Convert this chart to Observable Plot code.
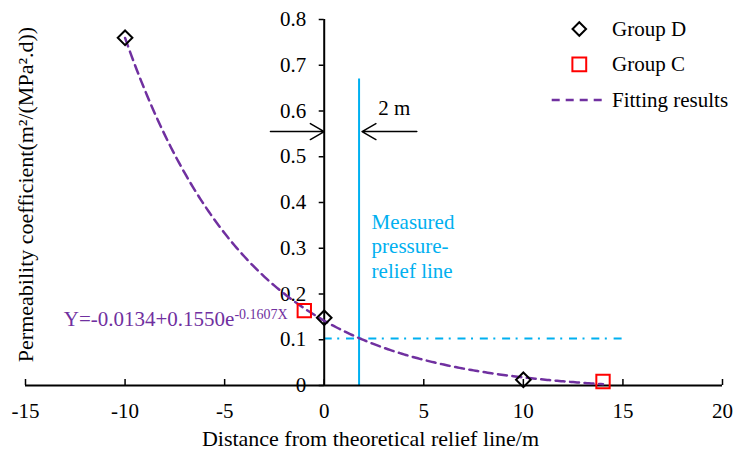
<!DOCTYPE html>
<html><head><meta charset="utf-8">
<script src="https://cdn.jsdelivr.net/npm/d3@7"></script>
<script src="https://cdn.jsdelivr.net/npm/@observablehq/plot@0.6"></script>
<style>html,body{margin:0;padding:0;background:#fff}svg{display:block}</style>
</head><body><div id="chart"></div>
<script>
// ---- data ----
const groupDX = [-10, 0, 10];
const groupDY = [0.760, 0.148, 0.0125];
const groupCX = [-1.0, 14.0];
const groupCY = [0.1635, 0.0087];
// fitted curve Y = a + b*e^(c*X), as printed on the chart
const fitA = -0.0134, fitB = 0.1550, fitC = -0.1607;
const fitFrom = -10, fitTo = 14;
const xTicks = [-15, -10, -5, 0, 5, 10, 15, 20];
const yTicks = [0, 0.1, 0.2, 0.3, 0.4, 0.5, 0.6, 0.7, 0.8];
const xLabel = "Distance from theoretical relief line/m";
const yLabel = "Permeability coefficient(m²/(MPa².d))";
const eqBase = "Y=" + fitA.toFixed(4) + "+" + fitB.toFixed(4) + "e";
const eqSup = fitC.toFixed(4) + "X";
const reliefX = 1.75, reliefTop = 0.67;          // measured pressure-relief line
const levelY = 0.103, levelFrom = 0, levelTo = 15; // dash-dot level line
const arrowY = 0.555;
const arrows = [{x1: -2.7, x2: 0}, {x1: 4.65, x2: 1.9}];
const gapLabel = "2 m";
const reliefLabel = "Measured\npressure-\nrelief line";
const legendItems = ["Group D", "Group C", "Fitting results"];

const FONT = "'Liberation Serif','Times New Roman',serif";
const CYAN = "#00B0F0", PURPLE = "#7030A0", RED = "#FF0000";

const groupD = groupDX.map((x, i) => ({x, y: groupDY[i]}));
const groupC = groupCX.map((x, i) => ({x, y: groupCY[i]}));
const curve = d3.range(fitFrom, fitTo + 1e-9, 0.1).map(x => ({x, y: fitA + fitB * Math.exp(fitC * x)}));

const plot = Plot.plot({
  width: 734, height: 453,
  marginLeft: 25, marginRight: 12, marginTop: 19, marginBottom: 68,
  x: {domain: [-15, 20], axis: null},
  y: {domain: [0, 0.8], axis: null},
  style: {fontFamily: FONT, background: "#fff", overflow: "visible"},
  marks: [
    // measured relief line and level line
    Plot.ruleX([reliefX], {y1: 0, y2: reliefTop, stroke: CYAN, strokeWidth: 2}),
    Plot.ruleY([levelY], {x1: levelFrom, x2: levelTo, stroke: CYAN, strokeWidth: 2, strokeDasharray: "8,5.5,2,6.8"}),
    // axes
    Plot.ruleY([0], {stroke: "black", strokeWidth: 2}),
    Plot.ruleX([0], {y1: 0, y2: 0.8, stroke: "black", strokeWidth: 2}),
    Plot.ruleX(xTicks, {x: d => d, y1: 0, y2: 0, insetTop: -6, stroke: "black", strokeWidth: 1.5}),
    Plot.ruleY(yTicks, {y: d => d, x1: 0, x2: 0, insetLeft: -5, stroke: "black", strokeWidth: 1.5}),
    Plot.text(xTicks, {x: d => d, y: 0, dy: 25.5, text: d => String(d), fontSize: 21, fill: "black"}),
    Plot.text(yTicks, {x: 0, y: d => d, dx: -18, textAnchor: "end", text: d => String(d), fontSize: 21, fill: "black"}),
    Plot.text([xLabel], {frameAnchor: "bottom", dy: 53, dx: -3.5, textAnchor: "middle", lineAnchor: "middle", fontSize: 22, fill: "black"}),
    Plot.text([yLabel], {frameAnchor: "left", rotate: -90, dy: -8, textAnchor: "middle", lineAnchor: "middle", fontSize: 22, fill: "black"}),
    // fit curve
    Plot.line(curve, {x: "x", y: "y", stroke: PURPLE, strokeWidth: 2.5, strokeDasharray: "9,5.5"}),
    // points
    Plot.dot(groupD, {x: "x", y: "y", symbol: "diamond2", r: 6.6, stroke: "black", strokeWidth: 2, fill: "none"}),
    Plot.dot(groupC, {x: "x", y: "y", symbol: "square2", r: 8.5, stroke: RED, strokeWidth: 2, fill: "none"}),
    // arrows & annotations
    Plot.arrow(arrows, {x1: "x1", x2: "x2", y1: () => arrowY, y2: () => arrowY, stroke: "black", strokeWidth: 1.5, headLength: 16, headAngle: 60}),
    Plot.text([gapLabel], {x: () => 3.52, y: () => 0.607, fontSize: 21, fill: "black"}),
    Plot.text([reliefLabel], {x: () => 2.38, y: () => 0.306, textAnchor: "start", lineHeight: 1.18, fontSize: 21, fill: CYAN}),
    Plot.text([eqBase + eqSup], {x: () => -13.08, y: () => 0.129, textAnchor: "start", lineAnchor: "bottom", fontSize: 21, fill: PURPLE})
  ]
});

document.getElementById("chart").appendChild(plot);
const svg = d3.select(plot);

// equation with superscript
svg.selectAll("text").filter(function () { return this.textContent === eqBase + eqSup; }).each(function () {
  const t = d3.select(this);
  t.text(null);
  t.append("tspan").text(eqBase);
  t.append("tspan").attr("dy", -7).attr("font-size", 14).text(eqSup);
});

// legend
const lg = svg.append("g").attr("font-family", FONT).attr("font-size", 21).attr("text-anchor", "start");
const lx = 579.3, ly = [29, 64.3, 100], tx = 612;
lg.append("path").attr("transform", `translate(${lx},${ly[0]})`)
  .attr("d", d3.symbol(d3.symbolDiamond2, 6.1 * 6.1 * Math.PI)())
  .attr("fill", "none").attr("stroke", "black").attr("stroke-width", 2);
lg.append("path").attr("transform", `translate(${lx},${ly[1]})`)
  .attr("d", d3.symbol(d3.symbolSquare2, 8.8 * 8.8 * Math.PI)())
  .attr("fill", "none").attr("stroke", RED).attr("stroke-width", 2);
lg.append("line").attr("x1", 551.7).attr("x2", 603).attr("y1", ly[2]).attr("y2", ly[2])
  .attr("stroke", PURPLE).attr("stroke-width", 2.5).attr("stroke-dasharray", "8,6");
legendItems.forEach((s, i) => {
  lg.append("text").attr("x", tx).attr("y", ly[i]).attr("dy", "0.32em").attr("text-anchor", "start").attr("fill", "black").text(s);
});
</script>
</body></html>
